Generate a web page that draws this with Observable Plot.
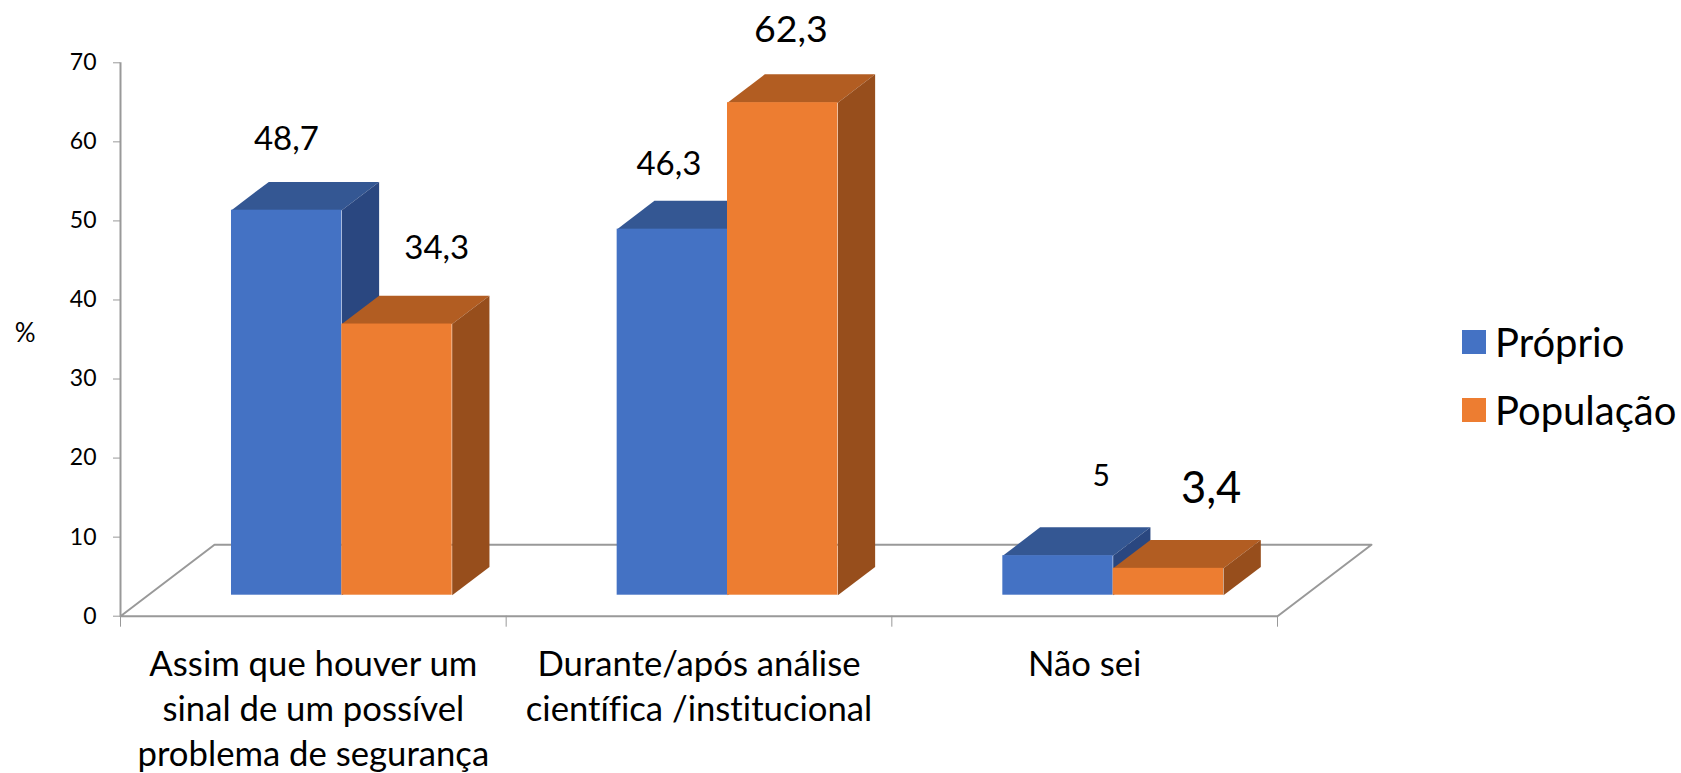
<!DOCTYPE html>
<html lang="pt">
<head>
<meta charset="utf-8">
<script src="https://cdn.jsdelivr.net/npm/d3@7"></script>
<script src="https://cdn.jsdelivr.net/npm/@observablehq/plot@0.6"></script>
<style>
  html, body { margin: 0; background: #fff; }
  #wrap { position: relative; width: 1681px; height: 773px; overflow: hidden; font-family: Lato, sans-serif; font-variant-ligatures: none; }
  #wrap svg { display: block; font-variant-ligatures: none; }
  .key { position: absolute; left: 1462px; display: flex; align-items: center; color: #000; font-size: 40px; line-height: 24px; height: 24px; white-space: nowrap; }
  .key i { display: block; width: 24px; height: 24px; margin-right: 9px; }
</style>
</head>
<body>
<div id="wrap"></div>
<script>
const categories = ["Assim que houver um\nsinal de um possível\nproblema de segurança", "Durante/após análise\ncientífica /institucional", "Não sei"];
const seriesNames = ["Próprio", "População"];
const proprio = [48.7, 46.3, 5];
const populacao = [34.3, 62.3, 3.4];
const valueLabels = [["48,7", "46,3", "5"], ["34,3", "62,3", "3,4"]];
const labelHeights = [[59, 55.85, 16.5], [45.2, 72.6, 14.3]];
const labelSizes = [[33, 33, 30], [33, 37.5, 43.5]];
const labelShift = [[0.43, 0.422, 0.543], [0.82, 0.738, 0.828]];
const yTicks = [0, 10, 20, 30, 40, 50, 60, 70];
const xTicks = [0, 1, 2, 3];
const colors = {
  front: ["#4472C4", "#ED7D31"],
  top: ["#345793", "#B25D22"],
  side: ["#2A4780", "#974E1C"]
};

// Oblique projection, expressed in scale units
const barWidth = 0.2861, barStart = 0.2878, base = 2.656, depthX = 0.0967, depthY = 3.58;
const floorX = 0.2437, floorY = 9.03, axisColor = "#999999";

function poly(points, fill) {
  return Plot.line(points.map(([x, y]) => ({x, y})), {x: "x", y: "y", fill, stroke: "none"});
}

const barMarks = [];
[proprio, populacao].forEach((values, s) => {
  values.forEach((v, c) => {
    const x0 = c + barStart + s * barWidth, x1 = x0 + barWidth, y0 = base, y1 = base + v;
    barMarks.push(
      poly([[x0, y1], [x0 + depthX, y1 + depthY], [x1 + depthX, y1 + depthY], [x1, y1], [x0, y1]], colors.top[s]),
      poly([[x1, y0], [x1 + depthX, y0 + depthY], [x1 + depthX, y1 + depthY], [x1, y1], [x1, y0]], colors.side[s]),
      Plot.rect([{x1: x0, x2: x1, y1: y0, y2: y1}], {x1: "x1", x2: "x2", y1: "y1", y2: "y2", fill: colors.front[s]})
    );
  });
});

const labelMarks = [];
valueLabels.forEach((row, s) => row.forEach((text, c) => {
  labelMarks.push(Plot.text([text], {
    x: () => c + labelShift[s][c],
    y: () => labelHeights[s][c],
    text: d => d,
    fontSize: labelSizes[s][c],
    lineAnchor: "bottom",
    fill: "#000"
  }));
}));

const chart = Plot.plot({
  width: 1681,
  height: 773,
  marginLeft: 120,
  marginRight: 404,
  marginTop: 62.3,
  marginBottom: 157.3,
  style: {background: "#fff", fontFamily: "Lato, sans-serif", color: "#000"},
  x: {domain: [0, 3]},
  y: {domain: [0, 70]},
  marks: [
    Plot.line([[0, 0], [floorX, floorY], [3 + floorX, floorY], [3, 0], [0, 0]].map(([x, y]) => ({x, y})),
      {x: "x", y: "y", stroke: axisColor, strokeWidth: 2, clip: false}),
    Plot.ruleX([0], {y1: 0, y2: 70, stroke: axisColor, strokeWidth: 2}),
    Plot.axisY({ticks: yTicks, tickSize: 7, tickPadding: 17, stroke: axisColor, fontSize: 23, fill: "#000", label: null, tickFormat: d => String(d)}),
    Plot.axisX({ticks: xTicks, tickSize: 11, tickPadding: 0, stroke: axisColor, tickFormat: () => "", label: null}),
    ...barMarks,
    ...labelMarks,
    Plot.text(categories, {
      x: (d, i) => i + 0.5,
      y: () => 0,
      text: d => d,
      dy: 27.5,
      fontSize: 34.7,
      lineHeight: 1.3,
      lineAnchor: "top",
      fill: "#000"
    }),
    Plot.text(["%"], {x: () => -0.247, y: () => 35.7, text: d => d, fontSize: 26, fill: "#000"})
  ]
});

const wrap = document.getElementById("wrap");
wrap.appendChild(chart);
seriesNames.forEach((name, i) => {
  const row = document.createElement("div");
  row.className = "key";
  row.style.top = (330 + i * 68) + "px";
  const swatch = document.createElement("i");
  swatch.style.background = colors.front[i];
  row.appendChild(swatch);
  row.appendChild(document.createTextNode(name));
  wrap.appendChild(row);
});
</script>
</body>
</html>
